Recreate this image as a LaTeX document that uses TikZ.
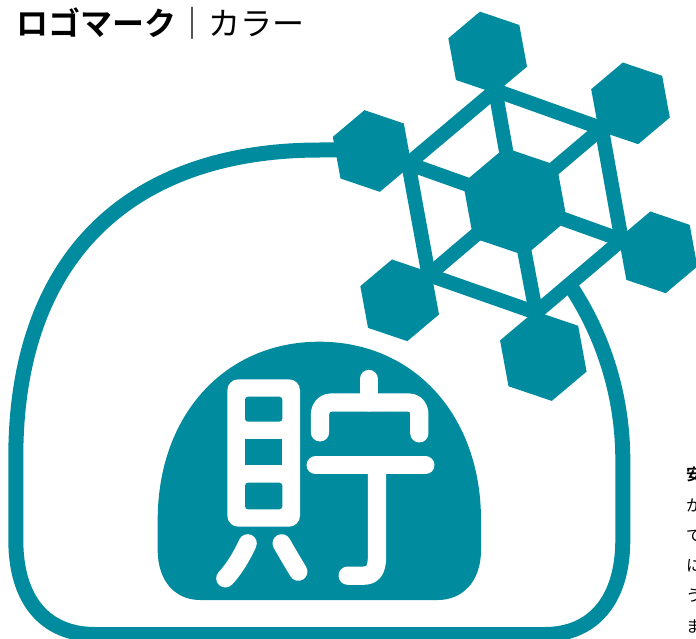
\documentclass[tikz,border=0pt]{standalone}
\usepackage{fontspec}
\newfontfamily\cjk[BoldFont={Noto Sans CJK JP Bold}]{Noto Sans CJK JP}
\definecolor{logoteal}{HTML}{008C9E}
\newcommand\snowhex[3]{\begin{scope}[shift={(#1,#2)},scale=#3]
\fill[logoteal] (-23,-122.5)--(95,-82.5)--(118,42.5)--(23,122.5)--(-95,82.5)--(-118,-42.5)--cycle;
\end{scope}}
\tikzset{
 tealline/.style={draw=logoteal,line width=14.3pt,line join=miter},
 archline/.style={draw=logoteal,line width=15pt,line join=miter},
 glyphline/.style={draw=white,line width=18.3pt,line cap=round,line join=round},
 titletext/.style={inner sep=0pt,anchor=base west,font=\cjk\fontsize{32pt}{32pt}\selectfont},
 sidetext/.style={inner sep=0pt,anchor=base west,font=\cjk\fontsize{16pt}{16pt}\selectfont},
}
\begin{document}
\begin{tikzpicture}[x=1pt,y=1pt,yscale=-1]
\useasboundingbox (0,0) rectangle (696,639);
\clip (0,0) rectangle (696,639);
\fill[white] (0,0) rectangle (696,639);
% title
\node[titletext] (t1) at (16,36) {\bfseries ロゴマーク};
\node[titletext] (t2) at (176,36) {｜};
\node[titletext] (t3) at (208,36) {カラー};
% cropped body text
\node[sidetext] (s1) at (686,480) {\bfseries 安};
\node[sidetext] (s2) at (686,511) {か};
\node[sidetext] (s3) at (686,541) {で};
\node[sidetext] (s4) at (686,571) {に};
\node[sidetext] (s5) at (686,601) {う};
\node[sidetext] (s6) at (686,632) {ま};
% arch
\draw[archline] (340,150) -- (320,150) .. controls (130,150) and (15.8,257) .. (15.8,457)
 -- (15.8,540) .. controls (15.8,600) and (45,634.5) .. (95,634.5) -- (545,634.5)
 .. controls (593,634.5) and (622.8,600) .. (622.8,540) -- (622.8,460)
 arc[start angle=0,end angle=-34.5,x radius=303.5,y radius=310];
% dome
\fill[logoteal] (157.7,520) .. controls (157.7,415) and (225,341.7) .. (319.3,341.7)
 .. controls (413.6,341.7) and (481,415) .. (481,520)
 -- (481,550) .. controls (481,582) and (462,600) .. (438,600) -- (200,600)
 .. controls (176,600) and (157.7,582) .. (157.7,550) -- cycle;
% glyph
\begin{scope}[shift={(150,340)},scale=0.33333]
\fill[white,rounded corners=11pt] (232,118) rectangle (450,560);
\fill[logoteal,rounded corners=3pt] (285,245) -- (285,170) -- (397,170) -- (397,245) -- cycle;
\fill[logoteal] (285,297) rectangle (397,375);
\fill[logoteal,rounded corners=3pt] (285,428) -- (285,508) -- (397,508) -- (397,428) -- cycle;
\draw[glyphline] (293,610) .. controls (275,650) and (250,690) .. (226,715);
\draw[glyphline] (395,610) .. controls (412,640) and (430,670) .. (445,695);
\draw[glyphline] (656,117) -- (656,187);
\draw[glyphline] (510,277) -- (510,225) .. controls (510,200) and (525,187.5) .. (545,187.5) -- (775,187.5) .. controls (795,187.5) and (808,200) .. (808,225) -- (808,280);
\draw[glyphline] (497,376) -- (826,376);
\draw[glyphline] (681,376) -- (681,650) .. controls (681,695) and (665,707) .. (640,707) -- (593,707);
\end{scope}
% snowflake
\begin{scope}[shift={(320,0)},scale=0.33333]
\coordinate (c) at (585,605);
\coordinate (r1) at (526,271);
\coordinate (r2) at (845,385);
\coordinate (r3) at (905,720);
\coordinate (r4) at (648,938);
\coordinate (r5) at (326,825);
\coordinate (r6) at (265,491);
\draw[tealline] (r1) -- (r2) -- (r3) -- (r4) -- (r5) -- (r6) -- cycle;
\foreach \i in {r1,r2,r3,r4,r5,r6} \draw[tealline] (c) -- (\i);
\snowhex{585}{605}{1.32}
\snowhex{503}{157.5}{1}
\snowhex{931.5}{310}{1}
\snowhex{1014}{757}{1}
\snowhex{670}{1068}{1.1}
\snowhex{239}{901}{1}
\snowhex{156.5}{453}{1}
\end{scope}
\end{tikzpicture}
\end{document}
